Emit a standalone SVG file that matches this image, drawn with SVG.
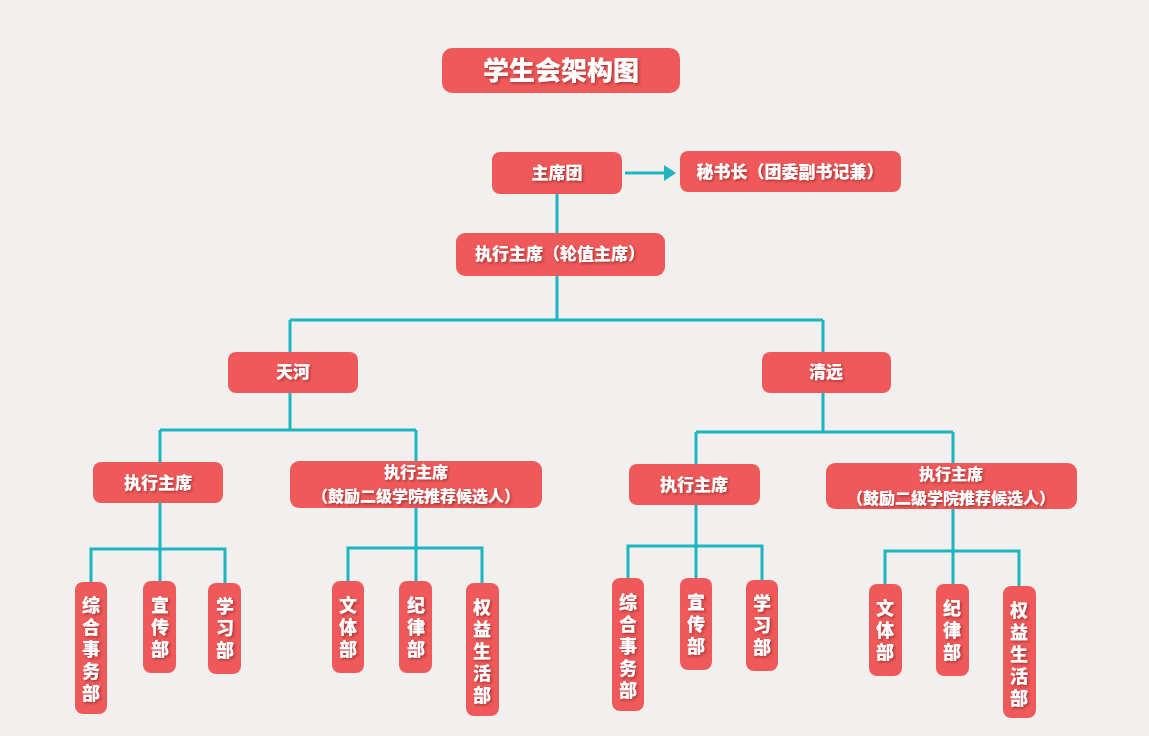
<svg xmlns="http://www.w3.org/2000/svg" width="1149" height="736" viewBox="0 0 1149 736">
<defs>
<filter id="sh" x="-10%" y="-10%" width="130%" height="140%"><feDropShadow dx="1.5" dy="1.5" stdDeviation="0.8" flood-color="#7a2020" flood-opacity="0.6"/></filter>
<marker id="ar" markerWidth="12" markerHeight="16" refX="2" refY="8" orient="auto" markerUnits="userSpaceOnUse" viewBox="0 0 12 16"><path d="M0,0 L12,8 L0,16 Z" fill="#1cb5c0"/></marker>
</defs>
<style>
.b{fill:#ef5959}
.t{fill:#fff;font-family:"Noto Sans CJK SC",sans-serif;font-weight:900;font-size:17px;text-anchor:middle;filter:url(#sh)}
.s{font-size:16px}
.v{font-size:18px;text-anchor:start;letter-spacing:4px}
.c path{fill:none;stroke:#1cb5c0;stroke-width:3}
</style>
<rect width="1149" height="736" fill="#f1f0ee"/>
<g id="title"><rect class="b" x="442" y="48" width="238" height="45" rx="10"/><text class="t" x="561" y="80" style="font-size:26px">学生会架构图</text></g>
<g class="c" id="connectors">
<path d="M625,173 H666" marker-end="url(#ar)"/>
<path d="M557,194 V233 M557,276 V320 M290,320 H823 M290,320 V352 M823,320 V352"/>
<path d="M290,393 V430 M160,430 H416 M160,430 V462 M416,430 V461"/>
<path d="M160,503 V549 M91,582 V549 H225 V583 M160,549 V581"/>
<path d="M416,508 V581 M348,581 V548 H482 V583"/>
<path d="M823,393 V432 M696,432 H953 M696,432 V464 M953,432 V463"/>
<path d="M696,505 V578 M628,578 V546 H762 V580"/>
<path d="M953,509 V584 M885,584 V551 H1019 V586"/>
</g>
<g id="n1"><rect class="b" x="492" y="152" width="130" height="42" rx="8"/><text class="t" x="557" y="179">主席团</text></g>
<g id="n2"><rect class="b" x="680" y="151" width="221" height="41" rx="8"/><text class="t" x="790" y="178">秘书长（团委副书记兼）</text></g>
<g id="n3"><rect class="b" x="456" y="233" width="209" height="43" rx="9"/><text class="t" x="560" y="260">执行主席（轮值主席）</text></g>
<g id="n4"><rect class="b" x="228" y="352" width="130" height="41" rx="8"/><text class="t" x="293" y="378">天河</text></g>
<g id="n5"><rect class="b" x="762" y="352" width="129" height="41" rx="8"/><text class="t" x="826" y="378">清远</text></g>
<g id="n6"><rect class="b" x="93" y="462" width="130" height="41" rx="8"/><text class="t" x="158" y="489">执行主席</text></g>
<g id="n7"><rect class="b" x="290" y="461" width="252" height="47" rx="9"/><text class="t s" x="416" y="478">执行主席</text><text class="t s" x="416" y="502">（鼓励二级学院推荐候选人）</text></g>
<g id="n8"><rect class="b" x="629" y="464" width="131" height="41" rx="8"/><text class="t" x="694" y="491">执行主席</text></g>
<g id="n9"><rect class="b" x="826" y="463" width="251" height="46" rx="9"/><text class="t s" x="951" y="480">执行主席</text><text class="t s" x="951" y="504">（鼓励二级学院推荐候选人）</text></g>
<g id="d1"><rect class="b" x="75" y="582" width="32" height="132" rx="8"/><text class="t v" x="91" y="596" writing-mode="tb">综合事务部</text></g>
<g id="d2"><rect class="b" x="143" y="581" width="33" height="92" rx="8"/><text class="t v" x="160" y="596" writing-mode="tb">宣传部</text></g>
<g id="d3"><rect class="b" x="208" y="583" width="33" height="91" rx="8"/><text class="t v" x="225" y="597" writing-mode="tb">学习部</text></g>
<g id="d4"><rect class="b" x="332" y="581" width="32" height="92" rx="8"/><text class="t v" x="348" y="596" writing-mode="tb">文体部</text></g>
<g id="d5"><rect class="b" x="399" y="581" width="33" height="92" rx="8"/><text class="t v" x="416" y="596" writing-mode="tb">纪律部</text></g>
<g id="d6"><rect class="b" x="466" y="583" width="33" height="133" rx="8"/><text class="t v" x="482" y="598" writing-mode="tb">权益生活部</text></g>
<g id="d7"><rect class="b" x="612" y="578" width="32" height="133" rx="8"/><text class="t v" x="628" y="593" writing-mode="tb">综合事务部</text></g>
<g id="d8"><rect class="b" x="680" y="578" width="32" height="92" rx="8"/><text class="t v" x="696" y="593" writing-mode="tb">宣传部</text></g>
<g id="d9"><rect class="b" x="746" y="580" width="32" height="91" rx="8"/><text class="t v" x="762" y="594" writing-mode="tb">学习部</text></g>
<g id="d10"><rect class="b" x="869" y="584" width="33" height="92" rx="8"/><text class="t v" x="885" y="599" writing-mode="tb">文体部</text></g>
<g id="d11"><rect class="b" x="936" y="584" width="33" height="92" rx="8"/><text class="t v" x="952" y="599" writing-mode="tb">纪律部</text></g>
<g id="d12"><rect class="b" x="1003" y="586" width="33" height="132" rx="8"/><text class="t v" x="1019" y="601" writing-mode="tb">权益生活部</text></g>
</svg>
